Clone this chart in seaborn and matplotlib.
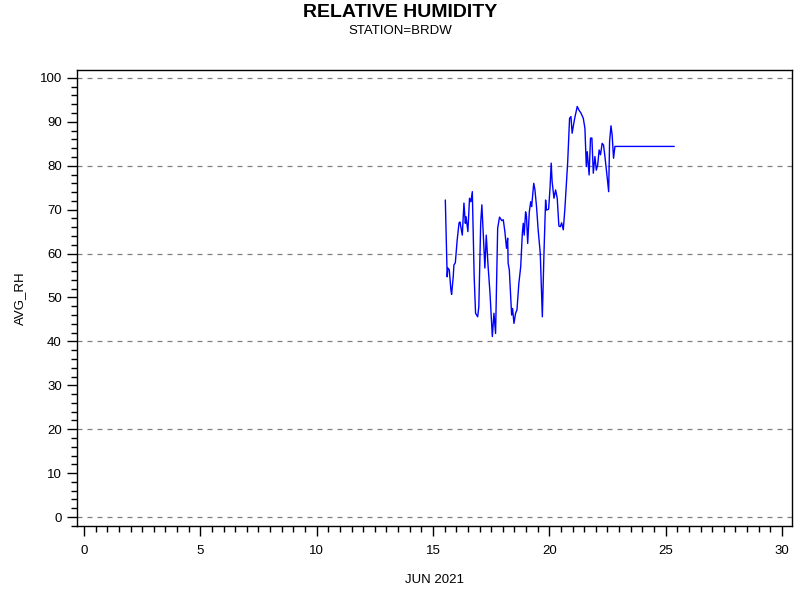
import matplotlib
matplotlib.use('Agg')
import numpy as np
import pandas as pd
import seaborn as sns
from matplotlib import pyplot as plt
from matplotlib.ticker import MultipleLocator

# day of June 2021 (fractional) and average relative humidity
day = [15.53, 15.61, 15.64, 15.70, 15.77, 15.80, 15.87, 15.90, 15.96, 16.04,
       16.12, 16.16, 16.26, 16.33, 16.39, 16.42, 16.50, 16.57, 16.63, 16.69,
       16.77, 16.83, 16.92, 16.97, 17.05, 17.10, 17.16, 17.23, 17.29, 17.37,
       17.45, 17.55, 17.62, 17.69, 17.78, 17.86, 17.96, 18.02, 18.09, 18.16,
       18.21, 18.23, 18.28, 18.38, 18.42, 18.48, 18.55, 18.61, 18.69, 18.77,
       18.84, 18.88, 18.92, 18.98, 19.02, 19.07, 19.14, 19.20, 19.24, 19.33,
       19.38, 19.45, 19.52, 19.61, 19.70, 19.77, 19.84, 19.88, 19.97, 20.03,
       20.08, 20.12, 20.20, 20.27, 20.34, 20.41, 20.47, 20.53, 20.60, 20.67,
       20.79, 20.87, 20.93, 20.98, 21.04, 21.09, 21.20, 21.27, 21.36, 21.46,
       21.53, 21.59, 21.63, 21.71, 21.77, 21.83, 21.89, 21.96, 22.02, 22.08,
       22.14, 22.20, 22.27, 22.33, 22.39, 22.49, 22.55, 22.59, 22.65, 22.70,
       22.76, 22.82, 25.37]
avg_rh = [72.2, 54.7, 56.7, 56.3, 51.7, 50.7, 54.7, 57.4, 57.9, 63.1,
          67.0, 67.2, 64.2, 71.5, 66.9, 68.4, 65.0, 72.6, 71.8, 74.1,
          54.7, 46.4, 45.6, 47.9, 66.9, 71.1, 64.6, 56.7, 64.2, 57.0,
          51.0, 41.1, 46.4, 41.8, 65.8, 68.3, 67.5, 67.7, 65.0, 61.2,
          63.5, 57.8, 56.3, 46.0, 47.5, 44.1, 46.4, 47.2, 53.2, 57.0,
          64.6, 66.9, 64.2, 69.5, 68.4, 62.3, 69.5, 71.8, 70.7, 76.0,
          74.6, 70.7, 65.4, 60.1, 45.6, 60.1, 72.2, 69.9, 70.1, 74.9,
          80.6, 76.4, 72.6, 74.5, 72.6, 66.3, 66.1, 67.0, 65.4, 70.3,
          80.9, 90.8, 91.2, 87.4, 89.3, 90.8, 93.5, 92.7, 92.0, 90.8,
          88.5, 79.8, 83.2, 77.9, 86.3, 86.3, 78.3, 82.1, 79.0, 80.2,
          83.6, 82.5, 85.1, 84.7, 82.1, 77.2, 74.1, 85.5, 89.1, 87.0,
          81.7, 84.4, 84.4]

df = pd.DataFrame({'day': day, 'AVG_RH': avg_rh})

sns.set_style('ticks')
plt.rcParams['font.family'] = ['Liberation Sans', 'DejaVu Sans']
plt.rcParams['text.color'] = 'black'
plt.rcParams['axes.labelcolor'] = 'black'
plt.rcParams['xtick.color'] = 'black'
plt.rcParams['ytick.color'] = 'black'

fig = plt.figure(figsize=(8, 6), dpi=100)
ax = fig.add_axes([0.09625, 0.1233, 0.89375, 0.76])

sns.lineplot(data=df, x='day', y='AVG_RH', color='#0000ff', linewidth=1.0, ax=ax)

ax.set_xlim(-0.3, 30.43)
ax.set_ylim(-2.05, 101.8)
ax.xaxis.set_major_locator(MultipleLocator(5))
ax.xaxis.set_minor_locator(MultipleLocator(0.5))
ax.yaxis.set_major_locator(MultipleLocator(10))
ax.yaxis.set_minor_locator(MultipleLocator(2))

for v in range(0, 101, 20):
    ax.axhline(v, color='#808080', linestyle=(0, (4, 4)), linewidth=0.9, zorder=0)

for s in ax.spines.values():
    s.set_color('black')
    s.set_linewidth(1.0)

ax.tick_params(which='major', length=7, width=1, color='black', labelsize=9.5, pad=4)
ax.tick_params(which='minor', length=4, width=1, color='black')
ax.tick_params(axis='x', pad=7)

ax.set_xlabel('JUN 2021', fontsize=9.5, labelpad=12)
ax.set_ylabel('AVG_RH', fontsize=9.5, labelpad=10)

fig.text(0.5, 1 - 12.5 / 600, 'RELATIVE HUMIDITY', ha='center', va='center',
         fontsize=14, fontweight='bold')
fig.text(0.5, 1 - 31.5 / 600, 'STATION=BRDW', ha='center', va='center', fontsize=9.5)

fig.savefig('out.png', dpi=100)
plt.close()
